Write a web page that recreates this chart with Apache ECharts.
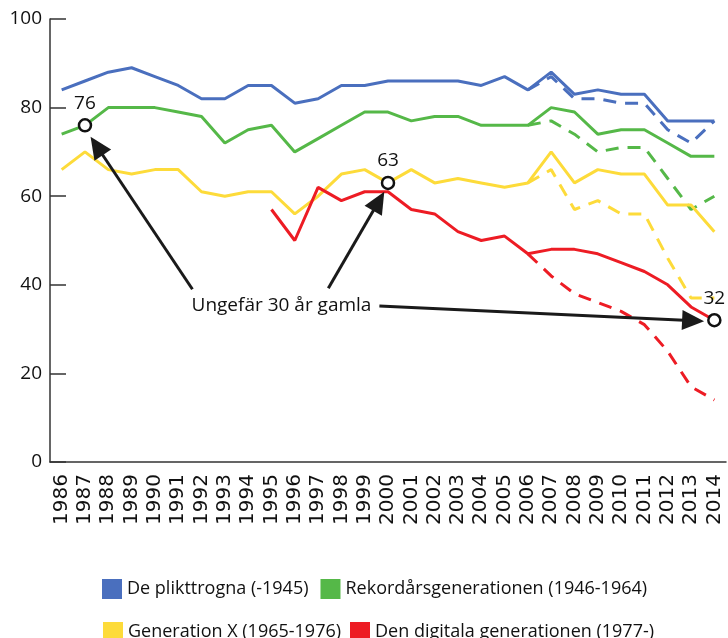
<!DOCTYPE html>
<html>
<head>
<meta charset="utf-8">
<script src="https://cdn.jsdelivr.net/npm/echarts@6/dist/echarts.min.js"></script>
<style>
html,body{margin:0;padding:0;background:#fff;}
#c{width:728px;height:638px;}
</style>
</head>
<body>
<div id="c"></div>
<script>
const years = ['1986','1987','1988','1989','1990','1991','1992','1993','1994','1995','1996','1997','1998','1999','2000','2001','2002','2003','2004','2005','2006','2007','2008','2009','2010','2011','2012','2013','2014'];
const yTicks = [0, 20, 40, 60, 80, 100];
const N = null;
const plikttrogna = [84,86,88,89,87,85,82,82,85,85,81,82,85,85,86,86,86,86,85,87,84,88,83,84,83,83,77,77,77];
const plikttrognaDash = [N,N,N,N,N,N,N,N,N,N,N,N,N,N,N,N,N,N,N,N,84,87,82,82,81,81,75,72,77];
const rekord = [74,76,80,80,80,79,78,72,75,76,70,73,76,79,79,77,78,78,76,76,76,80,79,74,75,75,72,69,69];
const rekordDash = [N,N,N,N,N,N,N,N,N,N,N,N,N,N,N,N,N,N,N,N,76,77,74,70,71,71,64,57,60];
const genX = [66,70,66,65,66,66,61,60,61,61,56,60,65,66,63,66,63,64,63,62,63,70,63,66,65,65,58,58,52];
const genXDash = [N,N,N,N,N,N,N,N,N,N,N,N,N,N,N,N,N,N,N,N,63,66,57,59,56,56,46,37,37];
const digital = [N,N,N,N,N,N,N,N,N,57,50,62,59,61,61,57,56,52,50,51,47,48,48,47,45,43,40,35,32];
const digitalDash = [N,N,N,N,N,N,N,N,N,N,N,N,N,N,N,N,N,N,N,N,47,42,38,36,34,31,25,17,14];

const names = ['De plikttrogna (-1945)','Rekordårsgenerationen (1946-1964)','Generation X (1965-1976)','Den digitala generationen (1977-)'];
const colors = ['#4a6fbe','#55b848','#fddb3a','#ed1c24'];

// annotation points (category index, value, label)
const markedPoints = [[1, 76, '76'], [14, 63, '63'], [28, 32, '32']];
const calloutText = 'Ungefär 30 år gamla';
const calloutAnchor = [9.43, 35.4];
const arrows = [
  [[5.61, 39.0], [1.24, 73.4]],
  [[11.44, 39.2], [13.84, 61.0]],
  [[13.63, 35.2], [27.56, 31.8]]
];

const FONT = '"Open Sans", "Noto Sans", sans-serif';
const chart = echarts.init(document.getElementById('c'), null, {renderer: 'canvas'});

function line(name, data, color, dashed) {
  return {
    name: name, type: 'line', data: data, symbol: 'none', connectNulls: false,
    lineStyle: {color: color, width: 3, type: dashed ? [13, 9] : 'solid'},
    itemStyle: {color: color}, silent: true, animation: false
  };
}

const series = [
  line(names[0], plikttrogna, colors[0], false),
  line(names[0] + ' ', plikttrognaDash, colors[0], true),
  line(names[1], rekord, colors[1], false),
  line(names[1] + ' ', rekordDash, colors[1], true),
  line(names[2], genX, colors[2], false),
  line(names[2] + ' ', genXDash, colors[2], true),
  line(names[3], digital, colors[3], false),
  line(names[3] + ' ', digitalDash, colors[3], true)
];

const legendText = {fontFamily: FONT, fontSize: 18, color: '#111'};
chart.setOption({
  animation: false,
  backgroundColor: '#fff',
  grid: {left: 50, right: 2, top: 19, bottom: 176, containLabel: false},
  xAxis: {
    type: 'category', data: years, boundaryGap: true,
    axisLine: {lineStyle: {color: '#333', width: 1.5}},
    axisTick: {inside: true, length: 5, lineStyle: {color: '#333'}},
    axisLabel: {rotate: 90, fontFamily: '"DejaVu Sans", sans-serif', fontSize: 20, color: '#111', margin: 12, interval: 0}
  },
  yAxis: {
    type: 'value', min: yTicks[0], max: yTicks[yTicks.length - 1], interval: 20,
    splitLine: {show: false},
    axisLine: {show: true, lineStyle: {color: '#333', width: 1.5}},
    axisTick: {show: true, inside: true, length: 16, lineStyle: {color: '#333', width: 1.5}},
    axisLabel: {fontFamily: FONT, fontSize: 19, color: '#111', margin: 8}
  },
  legend: [
    {data: [names[0], names[1]], left: 97, top: 574, icon: 'rect', itemWidth: 20, itemHeight: 20, itemGap: 12, textStyle: legendText, selectedMode: false},
    {data: [names[2], names[3]], left: 98, top: 617, icon: 'rect', itemWidth: 20, itemHeight: 20, itemGap: 9, textStyle: legendText, selectedMode: false}
  ],
  series: series
});

function px(idx, val) {
  const i0 = Math.min(Math.floor(idx), years.length - 2);
  const f = idx - i0;
  const a = chart.convertToPixel({xAxisIndex: 0}, i0);
  const b = chart.convertToPixel({xAxisIndex: 0}, i0 + 1);
  return [a + (b - a) * f, chart.convertToPixel({yAxisIndex: 0}, val)];
}

const g = [];
arrows.forEach(function (ar) {
  const p0 = px(ar[0][0], ar[0][1]);
  const p1 = px(ar[1][0], ar[1][1]);
  const dx = p1[0] - p0[0], dy = p1[1] - p0[1];
  const L = Math.sqrt(dx * dx + dy * dy);
  const ux = dx / L, uy = dy / L;
  const hl = 22, hw = 10;
  const bx = p1[0] - ux * hl, by = p1[1] - uy * hl;
  g.push({type: 'line', shape: {x1: p0[0], y1: p0[1], x2: bx + ux * 2, y2: by + uy * 2}, style: {stroke: '#1a1a1a', lineWidth: 3}, z: 100});
  g.push({type: 'polygon', shape: {points: [p1, [bx - uy * hw, by + ux * hw], [bx + uy * hw, by - ux * hw]]}, style: {fill: '#1a1a1a'}, z: 100});
});
markedPoints.forEach(function (m) {
  const p = px(m[0], m[1]);
  g.push({type: 'circle', shape: {cx: p[0], cy: p[1], r: 6}, style: {fill: '#fff', stroke: '#111', lineWidth: 2.5}, z: 110});
  g.push({type: 'text', x: p[0], y: p[1] - 22, style: {text: m[2], fontFamily: FONT, fontSize: 19, fill: '#111', align: 'center', verticalAlign: 'middle'}, z: 110});
});
const ta = px(calloutAnchor[0], calloutAnchor[1]);
g.push({type: 'text', x: ta[0], y: ta[1], style: {text: calloutText, fontFamily: FONT, fontSize: 19, fill: '#111', align: 'center', verticalAlign: 'middle'}, z: 110});
chart.setOption({graphic: g});
</script>
</body>
</html>
